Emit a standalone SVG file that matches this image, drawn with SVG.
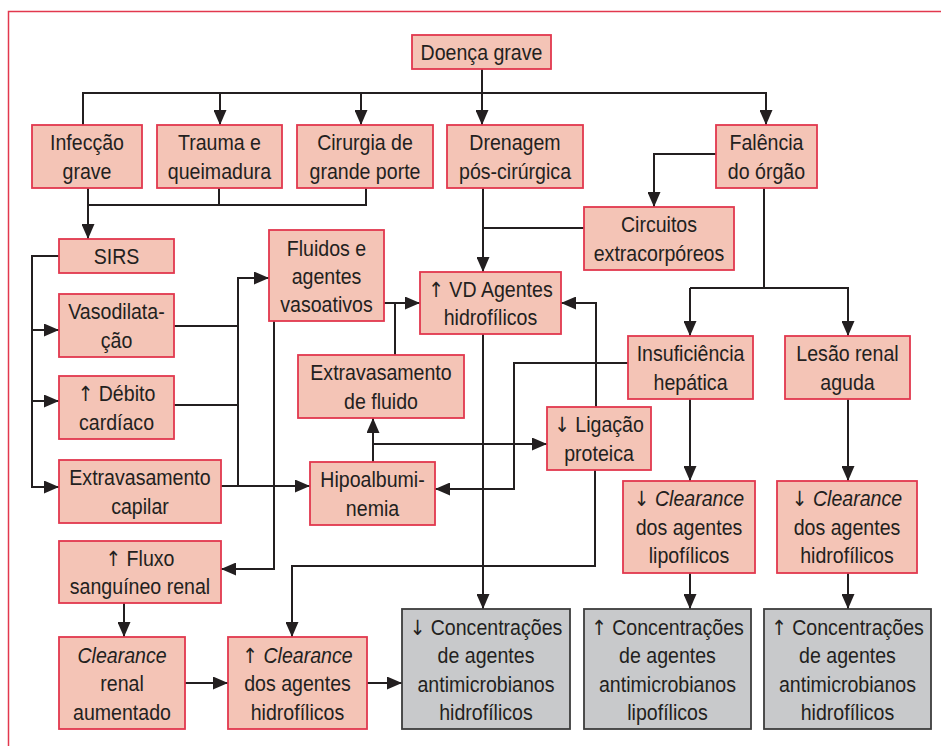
<svg xmlns="http://www.w3.org/2000/svg" width="941" height="746" viewBox="0 0 941 746">
  <style>
    .box rect { fill: #F4C4B6; stroke: #E2384E; stroke-width: 1.8; }
    .out rect { fill: #C8C9CB; stroke: #3C3C3C; stroke-width: 1.8; }
    text { font-family: "Liberation Sans", Arial, sans-serif; font-size: 22px; fill: #231F20; text-anchor: middle;
           transform-box: fill-box; transform-origin: center; transform: scaleX(0.89); }
    .i { font-style: italic; }
    .ar { font-family: "DejaVu Sans", sans-serif; font-size: 21px; }
    .wires path { fill: none; stroke: #231F20; stroke-width: 2; }
    .frame { fill: none; stroke: #E2384E; stroke-width: 1.5; }
  </style>
  <defs>
    <marker id="ah" markerUnits="userSpaceOnUse" markerWidth="16" markerHeight="13" refX="15" refY="6.5" orient="auto">
      <path d="M0,0 L15,6.5 L0,13 z" fill="#231F20"/>
    </marker>
  </defs>

  <rect width="941" height="746" fill="#FFFFFF"/>
  <path class="frame" d="M8.5,746 V11.5 H941"/>

  <!-- connectors -->
  <g class="wires" id="connectors">
    <path d="M482,69 V125" marker-end="url(#ah)"/>
    <path d="M83,125 V93 H766 V125" marker-end="url(#ah)"/>
    <path d="M220,93 V125" marker-end="url(#ah)"/>
    <path d="M361,93 V125" marker-end="url(#ah)"/>
    <path d="M88,188 V239" marker-end="url(#ah)"/>
    <path d="M88,205 H366 V188"/>
    <path d="M219,188 V205"/>
    <path d="M59,256 H32 V487 H59" marker-end="url(#ah)"/>
    <path d="M32,330 H59" marker-end="url(#ah)"/>
    <path d="M32,401 H59" marker-end="url(#ah)"/>
    <path d="M174,326 H238"/>
    <path d="M174,405 H238"/>
    <path d="M238,486 V278 H269" marker-end="url(#ah)"/>
    <path d="M221,486 H310" marker-end="url(#ah)"/>
    <path d="M274,321 V569 H221" marker-end="url(#ah)"/>
    <path d="M384,303 H420" marker-end="url(#ah)"/>
    <path d="M395,355 V303"/>
    <path d="M483,188 V272" marker-end="url(#ah)"/>
    <path d="M584,228 H483"/>
    <path d="M716,154 H654 V207" marker-end="url(#ah)"/>
    <path d="M764,188 V288"/>
    <path d="M690,288 H848 V336" marker-end="url(#ah)"/>
    <path d="M690,288 V336" marker-end="url(#ah)"/>
    <path d="M596,407 V303 H561" marker-end="url(#ah)"/>
    <path d="M628,363 H514 V489 H435" marker-end="url(#ah)"/>
    <path d="M373,462 V418" marker-end="url(#ah)"/>
    <path d="M373,444 H547" marker-end="url(#ah)"/>
    <path d="M483,334 V609" marker-end="url(#ah)"/>
    <path d="M595,470 V566 H292 V637" marker-end="url(#ah)"/>
    <path d="M124,603 V637" marker-end="url(#ah)"/>
    <path d="M185,683 H228" marker-end="url(#ah)"/>
    <path d="M367,683 H402" marker-end="url(#ah)"/>
    <path d="M690,399 V481" marker-end="url(#ah)"/>
    <path d="M848,399 V481" marker-end="url(#ah)"/>
    <path d="M690,573 V609" marker-end="url(#ah)"/>
    <path d="M848,573 V609" marker-end="url(#ah)"/>
  </g>

  <!-- nodes -->
  <g class="box" id="doenca">
    <rect x="412" y="35" width="139" height="34"/>
    <text x="481.5" y="60">Doença grave</text>
  </g>
  <g class="box" id="infeccao">
    <rect x="32" y="125" width="110" height="63"/>
    <text x="87" y="150.5">Infecção</text><text x="87" y="179">grave</text>
  </g>
  <g class="box" id="trauma">
    <rect x="157" y="125" width="125" height="63"/>
    <text x="219.5" y="150.5">Trauma e</text><text x="219.5" y="179">queimadura</text>
  </g>
  <g class="box" id="cirurgia">
    <rect x="297" y="125" width="136" height="63"/>
    <text x="365" y="150.5">Cirurgia de</text><text x="365" y="179">grande porte</text>
  </g>
  <g class="box" id="drenagem">
    <rect x="447" y="125" width="136" height="63"/>
    <text x="515" y="150.5">Drenagem</text><text x="515" y="179">pós-cirúrgica</text>
  </g>
  <g class="box" id="falencia">
    <rect x="716" y="125" width="101" height="63"/>
    <text x="766.5" y="150.5">Falência</text><text x="766.5" y="179">do órgão</text>
  </g>
  <g class="box" id="circuitos">
    <rect x="584" y="207" width="150" height="63"/>
    <text x="659" y="232.5">Circuitos</text><text x="659" y="261">extracorpóreos</text>
  </g>
  <g class="box" id="sirs">
    <rect x="59" y="239" width="115" height="34"/>
    <text x="116.5" y="264">SIRS</text>
  </g>
  <g class="box" id="fluidos">
    <rect x="269" y="230" width="115" height="91"/>
    <text x="326.5" y="256">Fluidos e</text><text x="326.5" y="284">agentes</text><text x="326.5" y="312">vasoativos</text>
  </g>
  <g class="box" id="vd">
    <rect x="420" y="272" width="141" height="62"/>
    <text x="490.5" y="297"><tspan class="ar">↑</tspan> VD Agentes</text><text x="490.5" y="325">hidrofílicos</text>
  </g>
  <g class="box" id="vasodilatacao">
    <rect x="59" y="294" width="115" height="63"/>
    <text x="116.5" y="319.5">Vasodilata-</text><text x="116.5" y="348">ção</text>
  </g>
  <g class="box" id="insuficiencia">
    <rect x="628" y="336" width="125" height="63"/>
    <text x="690.5" y="361.5">Insuficiência</text><text x="690.5" y="390">hepática</text>
  </g>
  <g class="box" id="lesao">
    <rect x="785" y="336" width="125" height="63"/>
    <text x="847.5" y="361.5">Lesão renal</text><text x="847.5" y="390">aguda</text>
  </g>
  <g class="box" id="extfluido">
    <rect x="298" y="355" width="166" height="63"/>
    <text x="381" y="380.5">Extravasamento</text><text x="381" y="409">de fluido</text>
  </g>
  <g class="box" id="debito">
    <rect x="59" y="376" width="115" height="63"/>
    <text x="116.5" y="401.5"><tspan class="ar">↑</tspan> Débito</text><text x="116.5" y="430">cardíaco</text>
  </g>
  <g class="box" id="ligacao">
    <rect x="547" y="407" width="104" height="63"/>
    <text x="599" y="432.5"><tspan class="ar">↓</tspan> Ligação</text><text x="599" y="461">proteica</text>
  </g>
  <g class="box" id="extcapilar">
    <rect x="59" y="460" width="162" height="63"/>
    <text x="140" y="485.5">Extravasamento</text><text x="140" y="514">capilar</text>
  </g>
  <g class="box" id="hipoalbuminemia">
    <rect x="310" y="462" width="125" height="63"/>
    <text x="372.5" y="487.5">Hipoalbumi-</text><text x="372.5" y="516">nemia</text>
  </g>
  <g class="box" id="clearlipo">
    <rect x="623" y="481" width="132" height="92"/>
    <text x="689" y="506.5"><tspan class="ar">↓</tspan> <tspan class="i">Clearance</tspan></text><text x="689" y="535">dos agentes</text><text x="689" y="563.5">lipofílicos</text>
  </g>
  <g class="box" id="clearhidro">
    <rect x="777" y="481" width="140" height="92"/>
    <text x="847" y="506.5"><tspan class="ar">↓</tspan> <tspan class="i">Clearance</tspan></text><text x="847" y="535">dos agentes</text><text x="847" y="563.5">hidrofílicos</text>
  </g>
  <g class="box" id="fluxo">
    <rect x="59" y="541" width="162" height="62"/>
    <text x="140" y="566"><tspan class="ar">↑</tspan> Fluxo</text><text x="140" y="594">sanguíneo renal</text>
  </g>
  <g class="box" id="clearrenal">
    <rect x="59" y="637" width="126" height="92"/>
    <text x="122" y="663" class="i">Clearance</text><text x="122" y="691.5">renal</text><text x="122" y="720">aumentado</text>
  </g>
  <g class="box" id="clearup">
    <rect x="228" y="637" width="139" height="92"/>
    <text x="297.5" y="663"><tspan class="ar">↑</tspan> <tspan class="i">Clearance</tspan></text><text x="297.5" y="691.5">dos agentes</text><text x="297.5" y="720">hidrofílicos</text>
  </g>
  <g class="out" id="conchidrodown">
    <rect x="402" y="609" width="168" height="120"/>
    <text x="486" y="635"><tspan class="ar">↓</tspan> Concentrações</text><text x="486" y="663.5">de agentes</text><text x="486" y="692">antimicrobianos</text><text x="486" y="720.5">hidrofílicos</text>
  </g>
  <g class="out" id="conclipoup">
    <rect x="584" y="609" width="167" height="120"/>
    <text x="667.5" y="635"><tspan class="ar">↑</tspan> Concentrações</text><text x="667.5" y="663.5">de agentes</text><text x="667.5" y="692">antimicrobianos</text><text x="667.5" y="720.5">lipofílicos</text>
  </g>
  <g class="out" id="conchidroup">
    <rect x="764" y="609" width="167" height="120"/>
    <text x="847.5" y="635"><tspan class="ar">↑</tspan> Concentrações</text><text x="847.5" y="663.5">de agentes</text><text x="847.5" y="692">antimicrobianos</text><text x="847.5" y="720.5">hidrofílicos</text>
  </g>
</svg>
